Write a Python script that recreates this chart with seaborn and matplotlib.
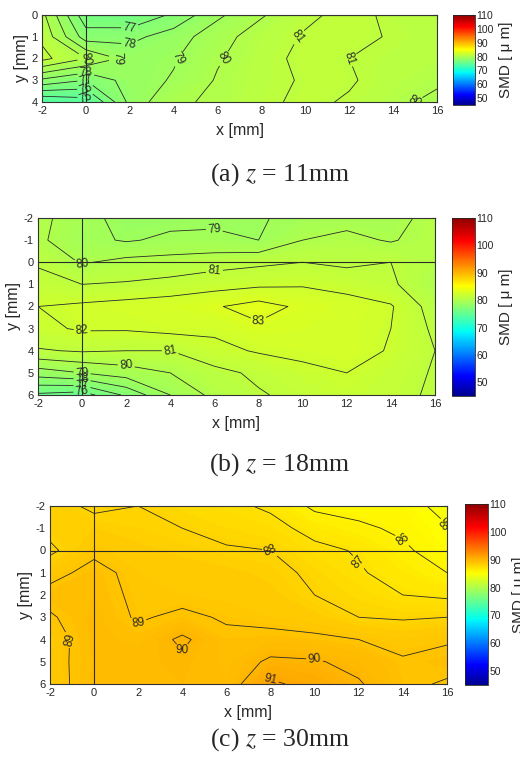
import numpy as np
import seaborn as sns
import matplotlib
matplotlib.use("Agg")
import matplotlib.pyplot as plt
from matplotlib.colors import Normalize, LinearSegmentedColormap
from matplotlib.cm import ScalarMappable

# measurement grid (mm)
x_mm = [-2, 0, 2, 4, 6, 8, 10, 12, 14, 16]
y_a = [0, 1, 2, 3, 4]
y_bc = [-2, -1, 0, 1, 2, 3, 4, 5, 6]

# SMD [um], rows follow y, columns follow x
smd_z11 = [
    [80.3, 76.3, 76.0, 77.2, 78.8, 79.9, 80.8, 81.3, 80.8, 80.5],
    [80.8, 77.5, 77.7, 78.5, 79.6, 80.5, 81.1, 81.3, 80.9, 80.6],
    [81.3, 80.0, 78.6, 78.9, 79.9, 80.6, 81.3, 81.0, 80.7, 80.5],
    [77.8, 77.0, 78.5, 79.1, 80.1, 80.7, 81.1, 81.1, 80.6, 80.2],
    [74.0, 74.5, 78.3, 79.9, 80.1, 80.8, 81.2, 80.9, 80.3, 79.7],
]
smd_z18 = [
    [80.3, 79.4, 78.6, 78.7, 78.8, 78.9, 79.3, 79.6, 79.5, 80.5],
    [80.2, 79.3, 78.9, 79.2, 79.2, 79.0, 80.0, 80.3, 79.9, 80.5],
    [80.9, 79.9, 80.3, 80.4, 80.6, 80.8, 81.0, 80.8, 81.0, 80.3],
    [81.3, 81.0, 81.1, 81.3, 81.6, 81.8, 81.9, 81.6, 81.2, 80.0],
    [82.0, 82.2, 82.4, 82.6, 82.9, 83.4, 82.8, 82.5, 82.1, 80.5],
    [81.8, 82.1, 82.1, 82.3, 82.2, 82.8, 82.6, 82.4, 82.0, 80.8],
    [80.9, 81.1, 81.0, 81.0, 81.7, 82.1, 82.3, 82.5, 81.9, 81.0],
    [78.5, 79.0, 79.5, 80.0, 80.7, 81.2, 81.7, 82.0, 81.5, 80.9],
    [75.8, 75.5, 77.2, 79.0, 80.3, 80.9, 81.3, 81.7, 81.4, 80.8],
]
smd_z30 = [
    [88.4, 87.8, 88.0, 87.6, 87.3, 86.8, 85.8, 85.6, 85.6, 84.5],
    [88.3, 88.4, 88.2, 88.0, 87.7, 87.4, 86.6, 86.2, 85.8, 85.1],
    [87.8, 88.8, 88.5, 88.3, 88.1, 88.0, 87.3, 86.9, 86.2, 85.4],
    [88.7, 89.3, 88.7, 88.6, 88.5, 88.3, 87.8, 87.1, 86.6, 86.0],
    [89.3, 89.4, 88.8, 88.7, 88.6, 88.5, 88.0, 87.6, 87.0, 86.8],
    [88.9, 89.5, 88.9, 89.2, 88.9, 88.7, 88.5, 88.0, 87.9, 88.0],
    [88.6, 89.5, 89.3, 90.2, 89.2, 89.3, 89.2, 89.0, 88.7, 88.9],
    [88.7, 89.4, 89.6, 89.8, 89.3, 90.2, 90.1, 89.7, 89.1, 89.3],
    [88.6, 89.5, 89.5, 89.7, 89.4, 91.2, 90.6, 90.1, 89.2, 88.9],
]
captions = ["(a) $z$ = 11mm", "(b) $z$ = 18mm", "(c) $z$ = 30mm"]
cbar_ticks = [50, 60, 70, 80, 90, 100, 110]

sns.set_style("white")
plt.rcParams["font.family"] = ["Liberation Sans", "DejaVu Sans"]
plt.rcParams["mathtext.fontset"] = "stix"
plt.rcParams["axes.unicode_minus"] = False

# MATLAB-style jet (a bit more compact than matplotlib's)
matlab_jet = LinearSegmentedColormap("matlab_jet", {
    "red":   [(0, 0, 0), (0.365, 0, 0), (0.619, 1, 1), (0.873, 1, 1), (1, 0.56, 0.56)],
    "green": [(0, 0, 0), (0.111, 0, 0), (0.365, 1, 1), (0.619, 1, 1), (0.873, 0, 0), (1, 0, 0)],
    "blue":  [(0, 0.56, 0.56), (0.111, 1, 1), (0.349, 1, 1), (0.619, 0, 0), (1, 0, 0)],
})
norm = Normalize(vmin=45, vmax=110)

fig = plt.figure(figsize=(5.2, 7.6), dpi=100)
W, H = 520.0, 760.0

def box(l, t, r, b):
    return [l / W, 1 - b / H, (r - l) / W, (b - t) / H]

# pixel boxes: axes, colorbar, caption y
panels = [
    (smd_z11, y_a, box(42, 15, 437, 102), box(453, 15, 475, 105), 175),
    (smd_z18, y_bc, box(38, 218, 435, 395), box(452, 218, 475, 396), 465),
    (smd_z30, y_bc, box(50, 506, 447, 684), box(465, 504, 488, 685), 740),
]

for (vals, ys, ax_box, cb_box, cap_y), cap in zip(panels, captions):
    ax = fig.add_axes(ax_box)
    Z = np.array(vals)
    X, Y = np.meshgrid(x_mm, ys)
    ax.contourf(X, Y, Z, levels=np.arange(70, 95.05, 0.1), cmap=matlab_jet, norm=norm)
    cs = ax.contour(X, Y, Z, levels=np.arange(70, 95, 1), colors="#2a2a2a", linewidths=0.6)
    ax.clabel(cs, fmt="%d", fontsize=8.5, inline=True, inline_spacing=2)
    ax.axvline(0, color="#2a2a2a", lw=0.8)
    ax.axhline(0, color="#2a2a2a", lw=0.8)
    ax.set_xlim(-2, 16)
    ax.set_ylim(max(ys), min(ys))
    ax.set_xticks(range(-2, 17, 2))
    ax.set_yticks(ys)
    ax.tick_params(direction="in", top=True, right=True, length=3, labelsize=8, pad=3)
    for s in ax.spines.values():
        s.set_color("#333333")
        s.set_linewidth(0.8)
    ax.set_xlabel("x [mm]", fontsize=11.5, labelpad=5)
    ax.set_ylabel("y [mm]", fontsize=11.5, labelpad=2)

    cax = fig.add_axes(cb_box)
    cb = fig.colorbar(ScalarMappable(norm=norm, cmap=matlab_jet), cax=cax, ticks=cbar_ticks)
    cb.ax.tick_params(labelsize=7.5, length=2, direction="in", pad=1)
    for t in cb.ax.get_yticklabels():
        t.set_family(["Liberation Sans Narrow", "Liberation Sans"])
    cb.outline.set_linewidth(0.6)
    cb.set_label("SMD [ μ m]", fontsize=11, labelpad=4)

    fig.text(280 / W, 1 - cap_y / H, cap, ha="center", va="center", fontsize=18.5,
             family="Liberation Serif")

fig.savefig("out.png", dpi=100)
